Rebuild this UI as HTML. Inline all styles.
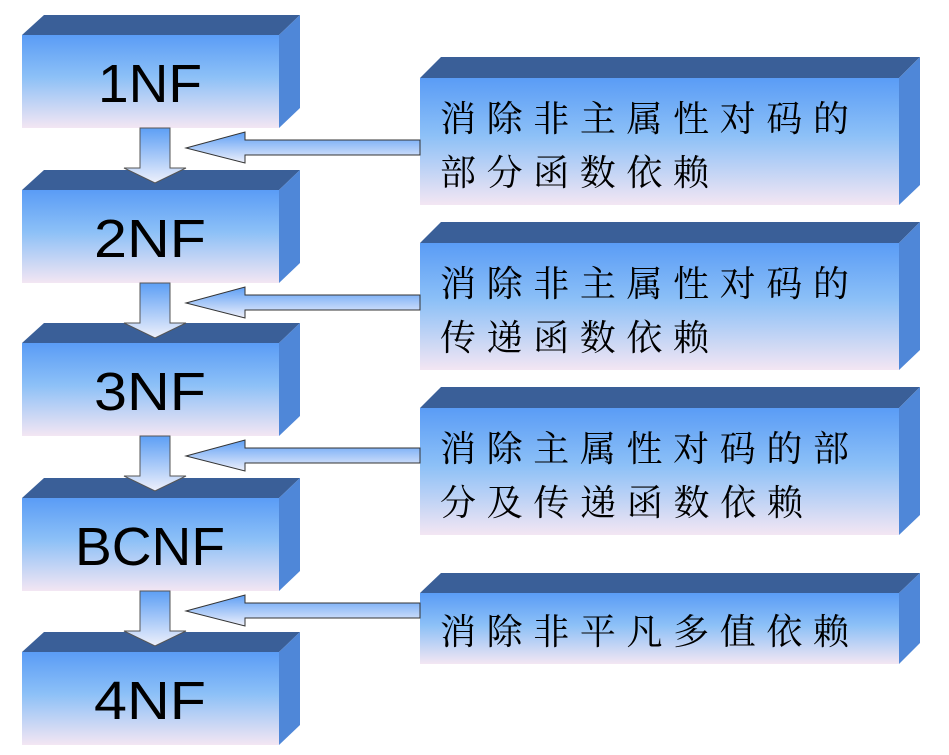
<!DOCTYPE html>
<html><head><meta charset="utf-8"><style>
html,body{margin:0;padding:0;background:#fff;}
svg{display:block}
.l{font-family:"Liberation Sans","DejaVu Sans",sans-serif;font-size:54px;fill:#000;text-anchor:middle}
.c{font-family:"Liberation Serif","Noto Serif CJK SC","Noto Sans CJK SC",serif;font-size:36px;fill:#000;letter-spacing:11px}
</style></head><body>
<svg width="949" height="755" viewBox="0 0 949 755" xmlns="http://www.w3.org/2000/svg">
<defs>
<linearGradient id="g" x1="0" y1="0" x2="0" y2="1">
<stop offset="0" stop-color="#5a9cf6"/><stop offset="0.45" stop-color="#8cc0f7"/><stop offset="1" stop-color="#f3e6f3"/>
</linearGradient>
<linearGradient id="ga" x1="0" y1="0" x2="0" y2="1">
<stop offset="0" stop-color="#5d9ff5"/><stop offset="1" stop-color="#eef0fb"/>
</linearGradient>
</defs>

<g id="lb">
<polygon points="22,35 44,15 300,15 279,35" fill="#3a5f98"/>
<polygon points="279,35 300,15 300,108 279,128" fill="#4f87d8"/>
<rect x="22" y="35" width="257" height="93" fill="url(#g)"/>
</g>
<use href="#lb" y="155"/>
<use href="#lb" y="308"/>
<use href="#lb" y="463"/>
<use href="#lb" y="617"/>
<text class="l" x="150" y="102" textLength="104" lengthAdjust="spacingAndGlyphs">1NF</text>
<text class="l" x="150" y="257" textLength="112" lengthAdjust="spacingAndGlyphs">2NF</text>
<text class="l" x="150" y="410" textLength="112" lengthAdjust="spacingAndGlyphs">3NF</text>
<text class="l" x="150" y="565" textLength="150" lengthAdjust="spacingAndGlyphs">BCNF</text>
<text class="l" x="150" y="719" textLength="112" lengthAdjust="spacingAndGlyphs">4NF</text>

<g id="va">
<polygon points="140,128 170,128 170,168 186,168 155,183 124,168 140,168" fill="url(#ga)" stroke="#555" stroke-width="1"/>
</g>
<use href="#va" y="155"/>
<use href="#va" y="308"/>
<use href="#va" y="463"/>

<g id="rb">
<polygon points="420,78 441,57 920,57 899,78" fill="#3a5f98"/>
<polygon points="899,78 920,57 920,185 899,205" fill="#4f87d8"/>
<rect x="420" y="78" width="479" height="127" fill="url(#g)"/>
</g>
<use href="#rb" y="165"/>
<use href="#rb" y="330"/>
<polygon points="420,593 441,573 920,573 899,593" fill="#3a5f98"/>
<polygon points="899,593 920,573 920,643 899,664" fill="#4f87d8"/>
<rect x="420" y="593" width="479" height="71" fill="url(#g)"/>

<g id="ha">
<polygon points="420,140 245,140 245,132 186,148 245,163 245,155 420,155" fill="url(#ga)" stroke="#333" stroke-width="1"/>
</g>
<use href="#ha" y="155"/>
<use href="#ha" y="308"/>
<use href="#ha" y="463"/>

<text class="c" x="440" y="131" textLength="420">消除非主属性对码的</text>
<text class="c" x="440" y="185" textLength="280">部分函数依赖</text>
<text class="c" x="440" y="296" textLength="420">消除非主属性对码的</text>
<text class="c" x="440" y="350" textLength="280">传递函数依赖</text>
<text class="c" x="440" y="461" textLength="420">消除主属性对码的部</text>
<text class="c" x="440" y="515" textLength="374">分及传递函数依赖</text>
<text class="c" x="440" y="644" textLength="420">消除非平凡多值依赖</text>
</svg>
</body></html>
